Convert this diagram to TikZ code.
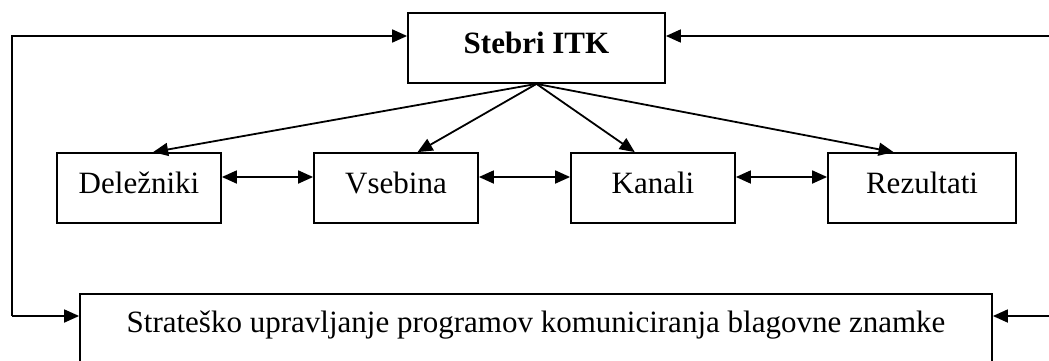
\documentclass[tikz,border=0pt]{standalone}
\usepackage{fontspec}
\setmainfont{Liberation Serif}
\usepackage{tikz}
\usetikzlibrary{calc,arrows.meta}

\begin{document}
\begin{tikzpicture}[x=1pt,y=-1pt,
	box/.style={draw,line width=1.8pt,font=\fontsize{31}{36}\selectfont,text height=22pt,text depth=11pt,minimum height=70pt,inner sep=0pt},
	arr/.style={line width=1.8pt,-{Triangle[length=15pt,width=13pt]}},
	darr/.style={line width=1.8pt,{Triangle[length=15pt,width=13pt]}-{Triangle[length=15pt,width=13pt]}}]
					%\draw[help lines] (0,0) grid (1049,361);
					\clip (0,0) rectangle (1049,361);
					%BOXES
					\node[box,minimum width=257pt] (stebri) at (536.5,48) {\textbf{Stebri ITK}};
					\node[box,minimum width=164pt] (del) at (139,188) {Deležniki};
					\node[box,minimum width=164pt] (vse) at (396,188) {Vsebina};
					\node[box,minimum width=164pt] (kan) at (653,188) {Kanali};
					\node[box,minimum width=188pt] (rez) at (922,188) {Rezultati};
					\node[box,minimum width=912pt,minimum height=0pt,inner ysep=17pt,text depth=14pt,anchor=north] (strat) at (536,293) {Strateško upravljanje programov komuniciranja blagovne znamke};
					%FEEDBACK
					\coordinate (la) at (12,36);
					\coordinate (lb) at (12,316);
					\coordinate (ra) at (1062,36);
					\coordinate (rb) at (1062,316);
					\coordinate (row) at (0,177);
					\draw[arr] (lb) -- (la) -- (la -| stebri.west);
					\draw[arr] (lb) -- (lb -| strat.west);
					\draw[line width=1.8pt] (ra) -- (rb);
					\draw[arr] (ra) -- (ra -| stebri.east);
					\draw[arr] (rb) -- (rb -| strat.east);
					%ROW
					\draw[darr] (del.east |- row) -- (vse.west |- row);
					\draw[darr] (vse.east |- row) -- (kan.west |- row);
					\draw[darr] (kan.east |- row) -- (rez.west |- row);
					%FAN
					\draw[arr] (stebri.south) -- ($(del.north west)!0.585!(del.north east)$);
					\draw[arr] (stebri.south) -- ($(vse.north west)!0.63!(vse.north east)$);
					\draw[arr] (stebri.south) -- ($(kan.north west)!0.39!(kan.north east)$);
					\draw[arr] (stebri.south) -- ($(rez.north west)!0.35!(rez.north east)$);
\end{tikzpicture}
\end{document}
